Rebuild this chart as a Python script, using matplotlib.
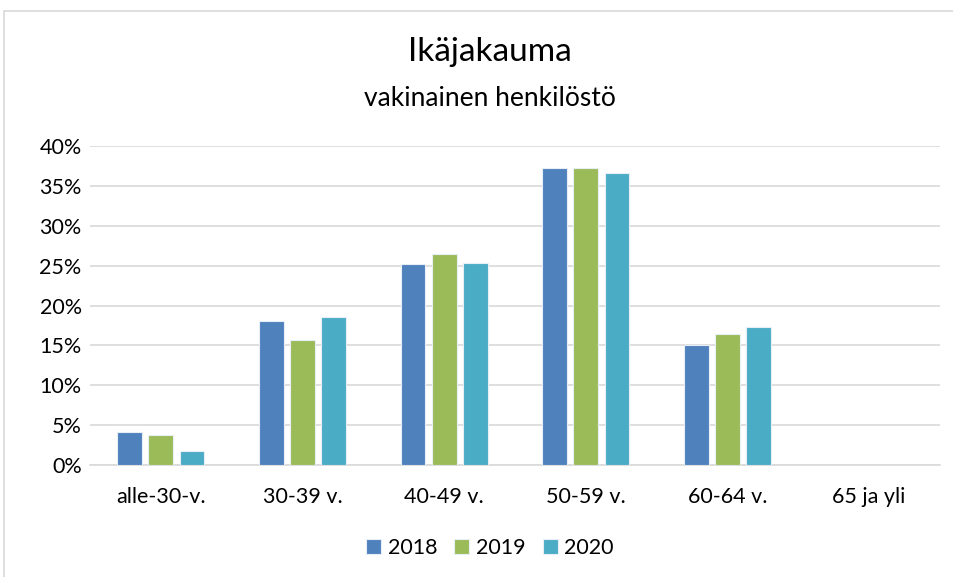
import matplotlib
matplotlib.use("Agg")
import matplotlib.pyplot as plt
from matplotlib.patches import Rectangle
import numpy as np

categories = ["alle-30-v.", "30-39 v.", "40-49 v.", "50-59 v.", "60-64 v.", "65 ja yli"]
years = ["2018", "2019", "2020"]
v2018 = [4.1, 18.0, 25.2, 37.3, 15.0, 0.0]
v2019 = [3.7, 15.7, 26.4, 37.3, 16.4, 0.0]
v2020 = [1.7, 18.6, 25.3, 36.6, 17.3, 0.0]
colors = ["#4f81bd", "#9bbb59", "#4bacc6"]

plt.rcParams['font.family'] = ['Lato', 'DejaVu Sans']

fig = plt.figure(figsize=(9.54, 5.77), dpi=100)
ax = fig.add_axes([90/954, 1-465/577, 850/954, (465-146)/577])

x = np.arange(len(categories))
w = 0.175
step = 0.22
for i, (vals, c, lab) in enumerate(zip([v2018, v2019, v2020], colors, years)):
    ax.bar(x + (i-1)*step, vals, width=w, color=c, label=lab,
           edgecolor="#e8eef6", linewidth=0.8, zorder=3)

ax.set_xlim(-0.5, len(categories)-0.5)
ax.set_ylim(0, 40)
ax.set_yticks(np.arange(0, 41, 5))
ax.set_yticklabels([f"{t}%" for t in range(0, 41, 5)])
ax.set_xticks(x)
ax.set_xticklabels(categories)
ax.grid(axis='y', color="#d9d9d9", linewidth=1.2, zorder=0)
ax.set_axisbelow(True)
for s in ["top", "right", "left"]:
    ax.spines[s].set_visible(False)
ax.spines["bottom"].set_color("#d9d9d9")
ax.spines["bottom"].set_linewidth(1.2)
ax.tick_params(axis='both', length=0, labelsize=15.5, colors="#000000")
ax.tick_params(axis='x', pad=16)
ax.tick_params(axis='y', pad=6)

fig.text(490/954, 1-52/577, "Ikäjakauma", ha='center', va='center', fontsize=24)
fig.text(490/954, 1-98/577, "vakinainen henkilöstö", ha='center', va='center', fontsize=19)

leg = fig.legend(loc='center', bbox_to_anchor=(490/954, 1-548/577), ncol=3,
                 frameon=False, fontsize=15.5, handlelength=0.7, handleheight=0.7,
                 handletextpad=0.3, columnspacing=0.8)

fig.patches.append(Rectangle((4/954, -0.01), 1.0, 1-11/577+0.01, transform=fig.transFigure,
                             fill=False, edgecolor="#d9d9d9", linewidth=1.2, clip_on=False))

fig.savefig("out.png", dpi=100)
